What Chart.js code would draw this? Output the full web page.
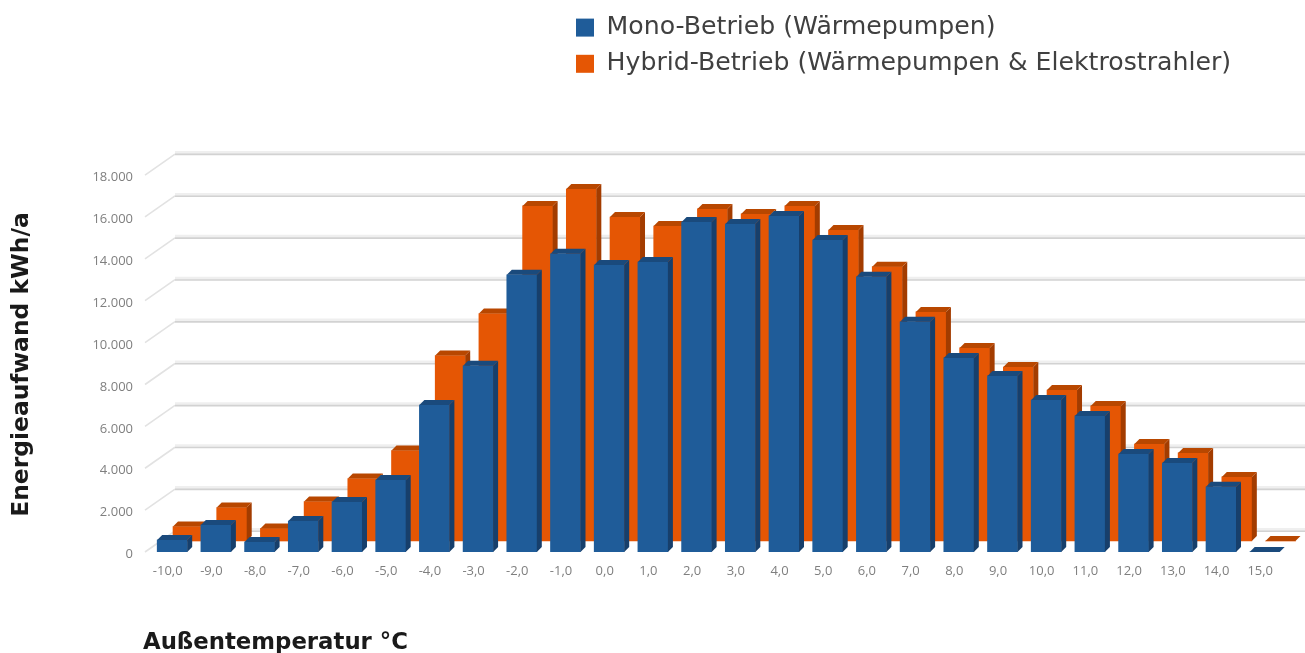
<!DOCTYPE html>
<html><head><meta charset="utf-8">
<style>html,body{margin:0;padding:0;background:#fff;overflow:hidden}canvas{display:block;filter:blur(0.5px)}</style>
<script src="https://cdn.jsdelivr.net/npm/chart.js@4"></script></head>
<body><canvas id="c" width="1305" height="653" style="width:1305px;height:653px"></canvas>
<script>
const temps=[-10,-9,-8,-7,-6,-5,-4,-3,-2,-1,0,1,2,3,4,5,6,7,8,9,10,11,12,13,14,15];
const monoValues=[575,1290,480,1480,2390,3440,7020,8890,13240,14240,13700,13850,15760,15660,16050,14900,13140,10990,9270,8410,7260,6500,4680,4250,3110,0];
const hybridValues=[690,1600,600,1885,2980,4320,8860,10860,16000,16810,15470,15040,15860,15620,16000,14850,13100,10940,9220,8310,7210,6450,4630,4205,3060,0];
const seriesNames=['Mono-Betrieb (Wärmepumpen)','Hybrid-Betrieb (Wärmepumpen & Elektrostrahler)'];
const yTitle='Energieaufwand kWh/a';
const xTitle='Außentemperatur °C';
const fmtY=v=>String(v).replace(/\B(?=(\d{3})+$)/g,'.');
const fmtX=v=>v.toFixed(1).replace('.',',');
const tick={family:'Open Sans',size:13};
const titleFont='bold 23.4px "DejaVu Sans"';

const wall={
 id:'wall',
 afterLayout(ch){
  const l=ch.legend; if(!l)return;
  const w=l.width,h=l.height;
  l.left=565;l.right=565+w;l.top=4;l.bottom=4+h;
 },
 beforeDatasetsDraw(ch){
  const c=ch.ctx,y=ch.scales.y,a=ch.chartArea,x0=a.left+2;
  c.save();
  y.ticks.forEach(t=>{
   const py=y.getPixelForValue(t.value);
   c.strokeStyle='#e2e2e2';c.lineWidth=1.6;
   c.beginPath();c.moveTo(x0,py);c.lineTo(x0+30,py-21);c.stroke();
   c.strokeStyle='#efefef';c.lineWidth=3;
   c.beginPath();c.moveTo(x0+30,py-22.5);c.lineTo(a.right,py-22.5);c.stroke();
   c.strokeStyle='#d2d2d2';c.lineWidth=1.6;
   c.beginPath();c.moveTo(x0+30,py-20.7);c.lineTo(a.right,py-20.7);c.stroke();
  });
  c.restore();
 },
 afterDatasetDraw(ch,args){
  const c=ch.ctx,ds=ch.data.datasets[args.index],d=5;
  c.save();
  ch.getDatasetMeta(args.index).data.forEach(b=>{
   const p=b.getProps(['x','y','base','width'],true);
   const x0=p.x-p.width/2,x1=p.x+p.width/2;
   c.fillStyle=ds.sideColor;
   c.beginPath();c.moveTo(x1,p.y);c.lineTo(x1+d,p.y-d);c.lineTo(x1+d,p.base-d);c.lineTo(x1,p.base);c.closePath();c.fill();
   c.fillStyle=ds.topColor;
   c.beginPath();c.moveTo(x0,p.y);c.lineTo(x0+d,p.y-d);c.lineTo(x1+d,p.y-d);c.lineTo(x1,p.y);c.closePath();c.fill();
  });
  c.restore();
 },
 afterDraw(ch){
  const c=ch.ctx;
  c.save();c.translate(22,364.5);c.rotate(-Math.PI/2);
  c.font=titleFont;c.fillStyle='#1a1a1a';c.textAlign='center';c.textBaseline='middle';
  c.fillText(yTitle,0,0);c.restore();
 }
};

new Chart(document.getElementById('c'),{
 type:'bar',
 data:{datasets:[
  {label:seriesNames[0],data:temps.map((t,i)=>({x:t,y:monoValues[i]})),backgroundColor:'#1f5c99',topColor:'#1a4a7c',sideColor:'#173f6b',xAxisID:'xMono',yAxisID:'y'},
  {label:seriesNames[1],data:temps.map((t,i)=>({x:t,y:hybridValues[i]})),backgroundColor:'#e55604',topColor:'#b84700',sideColor:'#a33c00',xAxisID:'xHybrid',yAxisID:'yHybrid'}
 ]},
 plugins:[wall],
 options:{
  responsive:false,animation:false,
  layout:{padding:{top:155,left:0,right:0,bottom:0}},
  datasets:{bar:{barThickness:30,grouped:false,borderWidth:0}},
  scales:{
   x:{type:'linear',offset:false,position:'bottom',min:-10.565,max:16.025,
    grid:{display:false,drawTicks:false},border:{display:false},
    afterBuildTicks:s=>{s.ticks=temps.map(v=>({value:v}))},
    ticks:{autoSkip:false,maxRotation:0,padding:11,color:'#7f7f7f',font:tick,callback:v=>fmtX(v)},
    title:{display:true,text:xTitle,align:'start',color:'#1a1a1a',font:{family:'DejaVu Sans',weight:'bold',size:22.8},padding:{top:0,bottom:-4}},
    afterFit:s=>{s.height=101}},
   xMono:{type:'linear',offset:false,display:false,min:-10.668,max:15.922},
   xHybrid:{type:'linear',offset:false,display:false,min:-11.03,max:15.56},
   y:{position:'left',min:0,max:18958,
    grid:{display:false,drawTicks:false},border:{display:false},
    afterBuildTicks:s=>{s.ticks=[0,2000,4000,6000,8000,10000,12000,14000,16000,18000].map(v=>({value:v}))},
    ticks:{padding:10,labelOffset:2.5,color:'#7f7f7f',font:tick,callback:v=>fmtY(v)},
    afterFit:s=>{s.width=143}},
   yHybrid:{display:false,min:-525,max:18433}
  },
  plugins:{
   legend:{display:true,position:'chartArea',align:'start',
    labels:{boxWidth:18,boxHeight:18,padding:11,color:'#404040',font:{family:'DejaVu Sans',size:25.2}}},
   tooltip:{enabled:false}
  }
 }
});
</script>
</body></html>
